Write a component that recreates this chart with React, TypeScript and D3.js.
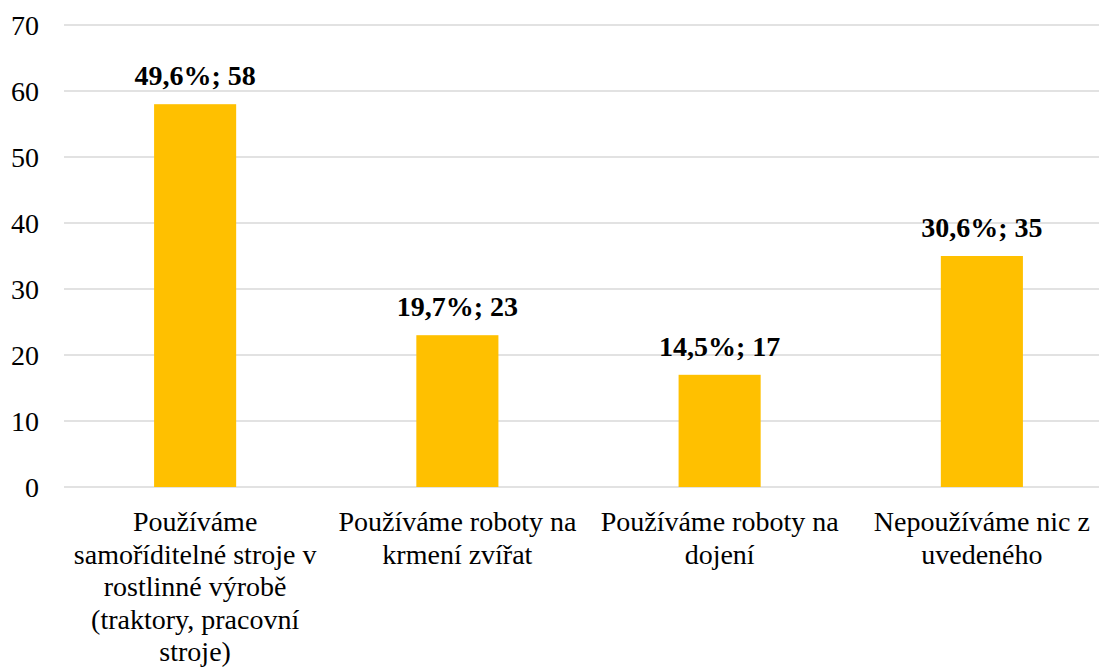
import React from 'react';
import * as d3 from 'd3';

// category labels, line breaks as in the original
const categories = [
    'Používáme\nsamoříditelné stroje v\nrostlinné výrobě\n(traktory, pracovní\nstroje)',
    'Používáme roboty na\nkrmení zvířat',
    'Používáme roboty na\ndojení',
    'Nepoužíváme nic z\nuvedeného',
];
const counts = [58, 23, 17, 35];
const shares = ['49,6%', '19,7%', '14,5%', '30,6%'];
const yTicks = [0, 10, 20, 30, 40, 50, 60, 70];

const W = 1099;
const H = 668;
const FONT = "'Times New Roman', 'Liberation Serif', Tinos, serif";

const margin = { top: 25, left: 64, bottom: 181 };
const plotRight = 1113; // plot area runs past the crop on the right

export default function App() {
    const x = d3.scaleBand().domain(categories).range([margin.left, plotRight]).paddingInner(0.687).paddingOuter(0.3435);
    const y = d3.scaleLinear().domain([0, 70]).range([H - margin.bottom, margin.top]);
    const bw = x.bandwidth();

    return (
        <div style={{ position: 'absolute', left: 0, top: 0, fontFamily: FONT }}>
            <svg width={W} height={H} fontFamily={FONT} style={{ display: 'block', background: '#fff' }}>
                {/* gridlines */}
                {yTicks.map((t) => (
                    <line key={'g' + t} x1={margin.left} x2={plotRight} y1={y(t)} y2={y(t)} stroke="#d9d9d9" strokeWidth={1.5} />
                ))}
                {/* y tick labels */}
                {yTicks.map((t) => (
                    <text key={'t' + t} x={39} y={y(t)} dy="0.35em" textAnchor="end" fontSize={28} style={{ fontFamily: FONT }}>
                        {t}
                    </text>
                ))}
                {/* bars */}
                {counts.map((d, i) => (
                    <rect key={'b' + i} x={x(categories[i])} y={y(d)} width={bw} height={y(0) - y(d)} fill="#ffc000" />
                ))}
                {/* value labels */}
                {counts.map((d, i) => (
                    <text
                        key={'v' + i}
                        x={x(categories[i]) + bw / 2}
                        y={y(d) - 19}
                        textAnchor="middle"
                        fontSize={28}
                        fontWeight="bold"
                        style={{ fontFamily: FONT }}
                    >
                        {shares[i] + '; ' + d}
                    </text>
                ))}
                {/* category labels */}
                {categories.map((c) => {
                    const cx = x(c) + bw / 2;
                    return (
                        <text key={c} x={cx} y={y(0) + 44} textAnchor="middle" fontSize={28} style={{ fontFamily: FONT }}>
                            {c.split('\n').map((l, i) => (
                                <tspan key={i} x={cx} dy={i === 0 ? 0 : 32.6}>
                                    {l}
                                </tspan>
                            ))}
                        </text>
                    );
                })}
            </svg>
        </div>
    );
}
